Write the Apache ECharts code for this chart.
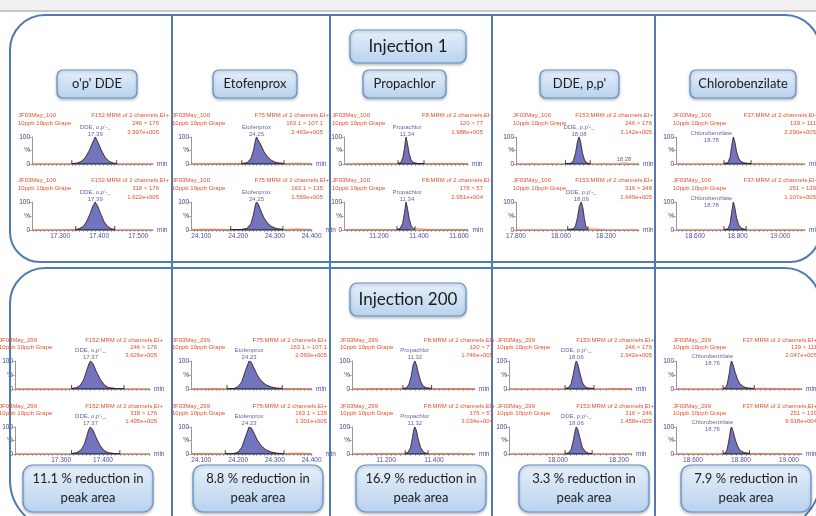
<!DOCTYPE html>
<html><head><meta charset="utf-8">
<script src="https://cdn.jsdelivr.net/npm/echarts@6/dist/echarts.min.js"></script>
<style>html,body{margin:0;padding:0;background:#fff}#c{width:816px;height:516px}</style>
</head><body><div id="c"></div>
<script>
// ---------------- DATA ----------------
const columnTitles = ["o'p' DDE", 'Etofenprox', 'Propachlor', "DDE, p,p'", 'Chlorobenzilate'];
const compoundLabels = ["DDE, o,p'-_", 'Etofenprox', 'Propachlor', "DDE, p,p'-_", 'Chlorobenzilate'];
const functionNames = ['F152:MRM of 2 channels,EI+', 'F75:MRM of 2 channels,EI+', 'F8:MRM of 2 channels,EI+', 'F153:MRM of 2 channels,EI+', 'F37:MRM of 2 channels,EI+'];
const transitionsCh1 = ['246 > 176', '163.1 > 107.1', '120 > 77', '246 > 176', '139 > 111'];
const transitionsCh2 = ['318 > 176', '163.1 > 135', '176 > 57', '316 > 246', '251 > 139'];
const sampleNames = ['JF03May_100', 'JF03May_299'];
const sampleDesc = '10ppb 10ppb Grape';
const injectionTitles = ['Injection 1', 'Injection 200'];

const inj1IntensityCh1 = ['3.997e+005', '2.463e+005', '1.988e+005', '3.142e+005', '2.290e+005'];
const inj1IntensityCh2 = ['1.622e+005', '1.569e+005', '2.951e+004', '1.649e+005', '1.107e+005'];
const inj200IntensityCh1 = ['3.626e+005', '2.093e+005', '1.746e+005', '2.942e+005', '2.047e+005'];
const inj200IntensityCh2 = ['1.495e+005', '1.301e+005', '3.034e+004', '1.458e+005', '9.918e+004'];

const inj1RTCh1 = ['17.39', '24.25', '11.34', '18.08', '18.78'];
const inj1RTCh2 = ['17.39', '24.25', '11.34', '18.09', '18.78'];
const inj200RTCh1 = ['17.37', '24.23', '11.32', '18.06', '18.76'];
const inj200RTCh2 = ['17.37', '24.23', '11.32', '18.06', '18.76'];

const reductions = ['11.1', '8.8', '16.9', '3.3', '7.9'];

const inj1TickLabels = [[17.3, 17.4, 17.5], [24.1, 24.2, 24.3, 24.4], [11.2, 11.4, 11.6], [17.8, 18.0, 18.2], [18.6, 18.8, 19.0]];
const inj200TickLabels = [[17.3, 17.4], [24.1, 24.2, 24.3, 24.4], [11.2, 11.4], [18.0, 18.2], [18.6, 18.8, 19.0]];

// chromatogram traces: [retention time (min), % of max]
const inj1DdeOpCh1 = [[17.228,0.6],[17.28,0.8],[17.33,1],[17.345,4],[17.355,10],[17.365,24],[17.375,50],[17.383,78],[17.39,100],[17.397,80],[17.405,52],[17.415,25],[17.425,10],[17.435,4],[17.445,1.5],[17.49,0.8],[17.538,0.6]];
const inj1DdeOpCh2 = [[17.228,0.6],[17.29,0.8],[17.34,1.2],[17.35,5],[17.36,13],[17.368,30],[17.377,58],[17.384,85],[17.39,100],[17.397,82],[17.405,54],[17.413,28],[17.422,12],[17.432,4],[17.44,1.5],[17.49,0.8],[17.538,0.6]];
const inj1EtoCh1 = [[24.072,1],[24.14,1.5],[24.21,1.5],[24.225,5],[24.235,20],[24.242,50],[24.247,85],[24.25,100],[24.255,93],[24.262,70],[24.27,46],[24.28,26],[24.29,14],[24.30,7],[24.31,4],[24.325,2],[24.36,3],[24.401,2]];
const inj1EtoCh2 = [[24.072,1.5],[24.12,2.5],[24.18,1.5],[24.21,2],[24.225,6],[24.235,22],[24.242,55],[24.247,88],[24.25,100],[24.255,92],[24.262,68],[24.27,44],[24.28,24],[24.29,13],[24.30,7],[24.31,4],[24.322,2],[24.36,3],[24.401,2]];
const inj1PropCh1 = [[11.025,1],[11.15,1.5],[11.295,1.5],[11.31,6],[11.32,25],[11.328,60],[11.335,100],[11.342,75],[11.35,40],[11.36,15],[11.37,6],[11.385,3],[11.40,2],[11.425,1.5],[11.5,2],[11.645,1.5]];
const inj1PropCh2 = [[11.025,1.5],[11.12,2],[11.22,1.5],[11.29,1.5],[11.305,5],[11.318,22],[11.327,58],[11.335,100],[11.342,78],[11.35,42],[11.36,16],[11.37,5],[11.38,2],[11.45,1.5],[11.645,1.5]];
const inj1DdePpCh1 = [[17.8,0.8],[17.9,1],[18.02,1],[18.045,3],[18.055,12],[18.065,40],[18.073,80],[18.08,100],[18.087,82],[18.095,42],[18.105,13],[18.115,4],[18.13,1.2],[18.2,1],[18.26,1.5],[18.272,3.5],[18.285,3.5],[18.30,1.2],[18.347,1]];
const inj1DdePpCh2 = [[17.8,0.8],[17.95,1],[18.03,1.2],[18.055,4],[18.065,15],[18.074,45],[18.082,84],[18.09,100],[18.097,80],[18.104,40],[18.11,13],[18.116,4],[18.12,1.5],[18.2,1],[18.347,1]];
const inj1ChloroCh1 = [[18.511,0.8],[18.65,1],[18.736,1.5],[18.755,5],[18.765,25],[18.772,65],[18.78,100],[18.787,80],[18.795,45],[18.805,20],[18.815,9],[18.83,4],[18.85,2],[18.863,1.5],[18.9,2],[19.116,1]];
const inj1ChloroCh2 = [[18.511,0.8],[18.62,1],[18.736,1.2],[18.755,4],[18.765,22],[18.772,62],[18.78,100],[18.787,78],[18.795,42],[18.805,18],[18.815,8],[18.83,3],[18.84,1.5],[18.9,1],[19.116,1]];

const inj200DdeOpCh1 = [[17.19,0.6],[17.26,0.8],[17.325,1.5],[17.335,4],[17.345,12],[17.353,30],[17.36,60],[17.366,88],[17.37,100],[17.376,90],[17.383,65],[17.393,35],[17.403,14],[17.413,5],[17.43,2],[17.45,1],[17.512,0.6]];
const inj200DdeOpCh2 = [[17.19,0.6],[17.28,0.8],[17.325,1.2],[17.337,5],[17.347,14],[17.355,34],[17.361,64],[17.366,90],[17.37,100],[17.376,88],[17.383,62],[17.392,33],[17.402,13],[17.412,5],[17.425,2],[17.44,1],[17.512,0.6]];
const inj200EtoCh1 = [[24.072,1],[24.13,1.5],[24.17,1],[24.19,2],[24.20,8],[24.21,25],[24.22,65],[24.23,100],[24.236,95],[24.243,75],[24.252,50],[24.262,30],[24.275,15],[24.29,7],[24.305,3],[24.32,2],[24.35,2],[24.401,1.5]];
const inj200EtoCh2 = [[24.072,1.5],[24.12,1.5],[24.165,1],[24.19,2],[24.20,7],[24.21,24],[24.22,62],[24.23,100],[24.236,96],[24.243,78],[24.252,52],[24.262,31],[24.275,16],[24.29,7],[24.305,3],[24.325,2],[24.36,2.5],[24.401,1.5]];
const inj200PropCh1 = [[11.058,1],[11.16,1.5],[11.27,1.5],[11.285,4],[11.295,15],[11.305,45],[11.313,85],[11.32,100],[11.327,85],[11.335,55],[11.345,25],[11.355,10],[11.37,4],[11.39,2],[11.42,2],[11.571,1.2]];
const inj200PropCh2 = [[11.058,1],[11.2,1.5],[11.28,1.5],[11.292,6],[11.302,22],[11.31,58],[11.316,90],[11.32,100],[11.326,88],[11.334,55],[11.344,24],[11.354,9],[11.365,3],[11.375,1.5],[11.45,1.5],[11.571,1.2]];
const inj200DdePpCh1 = [[17.839,0.8],[17.95,1],[18.023,1.5],[18.035,5],[18.043,18],[18.05,50],[18.056,85],[18.06,100],[18.065,88],[18.072,55],[18.08,22],[18.09,7],[18.10,3],[18.118,1.2],[18.15,1],[18.18,2],[18.243,1.5]];
const inj200DdePpCh2 = [[17.839,0.8],[17.95,1],[18.023,1.2],[18.035,4],[18.043,16],[18.05,48],[18.056,84],[18.06,100],[18.065,90],[18.072,58],[18.08,24],[18.09,8],[18.1,3],[18.112,1.2],[18.243,1]];
const inj200ChloroCh1 = [[18.529,0.8],[18.65,1],[18.725,1.5],[18.735,4],[18.742,15],[18.75,50],[18.756,85],[18.76,100],[18.766,88],[18.775,60],[18.785,35],[18.795,18],[18.81,8],[18.83,3],[18.855,1.5],[18.88,2.5],[19.054,1]];
const inj200ChloroCh2 = [[18.529,0.8],[18.65,1],[18.725,1.2],[18.735,4],[18.742,16],[18.75,52],[18.756,88],[18.76,100],[18.766,86],[18.775,56],[18.785,30],[18.795,14],[18.81,6],[18.835,1.5],[18.87,2],[19.054,1]];

// integration limits [start, end] (min)
const inj1IntegrationCh1 = [[17.33,17.445],[24.21,24.325],[11.295,11.425],[18.02,18.13],[18.736,18.863]];
const inj1IntegrationCh2 = [[17.34,17.44],[24.18,24.322],[11.29,11.38],[18.03,18.12],[18.736,18.84]];
const inj200IntegrationCh1 = [[17.325,17.45],[24.17,24.32],[11.27,11.39],[18.023,18.118],[18.725,18.855]];
const inj200IntegrationCh2 = [[17.325,17.44],[24.165,24.325],[11.28,11.375],[18.023,18.112],[18.725,18.835]];

// small extra labelled peak (Injection 1, DDE p,p', channel 1)
const inj1MinorPeak = [18.28, 3.5];

// ---------------- LAYOUT ----------------
const FONT = '"Liberation Sans", Arial, sans-serif';
const BOXFONT = 'Lato, "Open Sans", sans-serif';
const RED = '#e4502c', NAVY = '#3b3b86', AXC = '#7d7d7d', TICKC = '#4b4ba0';
const BORDER = '#4f79b0';

const rows = [
  {
    traces: [[inj1DdeOpCh1, inj1EtoCh1, inj1PropCh1, inj1DdePpCh1, inj1ChloroCh1],
             [inj1DdeOpCh2, inj1EtoCh2, inj1PropCh2, inj1DdePpCh2, inj1ChloroCh2]],
    integ: [inj1IntegrationCh1, inj1IntegrationCh2],
    intensity: [inj1IntensityCh1, inj1IntensityCh2],
    rt: [inj1RTCh1, inj1RTCh2],
    ticks: inj1TickLabels,
    sample: sampleNames[0],
    gridTop: [137, 202], gridH: [27, 28], textOff: [-21.5, -14, -4.5],
    left: [32, 191, 344, 516, 676], right: [153, 312, 468, 639, 805],
    ranges: [[17.228, 17.538], [24.072, 24.401], [11.025, 11.645], [17.8, 18.347], [18.511, 19.116]],
    minorStep: [0.01, 0.01, 0.02, 0.02, 0.02],
    labelOff: [[0, 2], [0, 2], [0, 2], [0, 2], [-22, 8]],
    textLeft: [18, 172, 332, 513, 673], textR1: [169, 329, 493, 653, 818], textR2: [159, 323, 483, 652, 816]
  },
  {
    traces: [[inj200DdeOpCh1, inj200EtoCh1, inj200PropCh1, inj200DdePpCh1, inj200ChloroCh1],
             [inj200DdeOpCh2, inj200EtoCh2, inj200PropCh2, inj200DdePpCh2, inj200ChloroCh2]],
    integ: [inj200IntegrationCh1, inj200IntegrationCh2],
    intensity: [inj200IntensityCh1, inj200IntensityCh2],
    rt: [inj200RTCh1, inj200RTCh2],
    ticks: inj200TickLabels,
    sample: sampleNames[1],
    gridTop: [361, 427], gridH: [28, 27], textOff: [-21, -14, -6],
    left: [15, 191, 352, 509, 676], right: [150, 312, 475, 632, 802],
    ranges: [[17.19, 17.512], [24.072, 24.401], [11.058, 11.571], [17.839, 18.243], [18.529, 19.054]],
    minorStep: [0.01, 0.01, 0.02, 0.02, 0.02],
    labelOff: [[0, 1], [0, 1], [0, 1], [0, 1], [-19, 7]],
    textLeft: [-1, 172, 340, 497, 673], textR1: [163, 327, 495, 654, 817], textR2: [157, 327, 493, 652, 817]
  }
];

const grids = [], xAxes = [], yAxes = [], series = [], graphics = [];

function txt(x, y, text, opts) {
  opts = opts || {};
  return {
    type: 'text', x: x, y: y, z: 100,
    style: Object.assign({
      text: text, fill: RED, font: '6px ' + FONT,
      align: 'left', textAlign: 'left', verticalAlign: 'middle', textVerticalAlign: 'middle'
    }, opts)
  };
}

// background / frame
graphics.push({type: 'rect', z: 1, shape: {x: 0, y: 0, width: 816, height: 10}, style: {fill: '#f1f1f1'}});
graphics.push({type: 'line', z: 1, shape: {x1: 0, y1: 11, x2: 816, y2: 11}, style: {stroke: '#c6c6c6', lineWidth: 2}});
[172, 330, 492, 655].forEach(function (x) {
  graphics.push({type: 'line', z: 1, shape: {x1: x, y1: 15, x2: x, y2: 516}, style: {stroke: BORDER, lineWidth: 2}});
});
graphics.push({type: 'rect', z: 1, shape: {x: 10, y: 15, width: 810, height: 247, r: [35, 35, 30, 30]}, style: {fill: 'none', stroke: BORDER, lineWidth: 2}});
graphics.push({type: 'rect', z: 1, shape: {x: 10, y: 268, width: 810, height: 262, r: [35, 35, 50, 50]}, style: {fill: 'none', stroke: BORDER, lineWidth: 2}});

function box(x, y, w, h, r, text, fontSize, lineHeight) {
  graphics.push({
    type: 'rect', z: 110, shape: {x: x, y: y, width: w, height: h, r: r},
    style: {
      fill: {type: 'linear', x: 0, y: 0, x2: 0, y2: 1, colorStops: [{offset: 0, color: '#e6f0fa'}, {offset: 1, color: '#b9d2ee'}]},
      stroke: '#5f8fc8', lineWidth: 1.2, shadowBlur: 3, shadowColor: 'rgba(0,0,0,0.25)', shadowOffsetY: 1.5
    }
  });
  graphics.push({
    type: 'text', z: 111, x: x + w / 2, y: y + h / 2,
    style: {text: text, fill: '#1c1c1c', font: fontSize + 'px ' + BOXFONT, lineHeight: lineHeight,
            align: 'center', textAlign: 'center', verticalAlign: 'middle', textVerticalAlign: 'middle'}
  });
}
box(350, 30, 116, 33, 7, injectionTitles[0], 17, 20);
box(350, 283, 116, 33, 7, injectionTitles[1], 17, 20);
const titleBoxes = [[57, 80], [213, 84], [363, 83], [540, 79], [690, 106]];
columnTitles.forEach(function (t, i) { box(titleBoxes[i][0], 70, titleBoxes[i][1], 28, 6, t, 13, 16); });
const redBoxes = [23, 193, 356, 519, 681];
reductions.forEach(function (v, i) { box(redBoxes[i], 465, 130, 47, 10, v + ' % reduction in\npeak area', 13, 19); });

// chromatograms
rows.forEach(function (row, r) {
  for (let c = 0; c < 5; c++) {
    for (let t = 0; t < 2; t++) {
      const gi = grids.length;
      const top = row.gridTop[t], h = row.gridH[t];
      const left = row.left[c], width = row.right[c] - row.left[c];
      grids.push({left: left, top: top, width: width, height: h, containLabel: false, outerBoundsMode: 'none'});
      const mn = row.ranges[c][0], mx = row.ranges[c][1];
      const step = row.minorStep[c];
      const minor = [];
      for (let k = Math.ceil(mn / step - 1e-9); k * step <= mx + 1e-9; k++) minor.push(+(k * step).toFixed(3));
      xAxes.push({
        gridIndex: gi, type: 'value', min: mn, max: mx,
        axisLine: {show: true, onZero: false, lineStyle: {color: AXC, width: 0.8}},
        axisTick: {show: true, customValues: minor, length: 2, lineStyle: {color: AXC, width: 0.6}},
        axisLabel: {show: t === 1, customValues: row.ticks[c], formatter: function (v) { return v.toFixed(3); },
                    fontSize: 6.5, color: TICKC, margin: 3, fontFamily: FONT},
        splitLine: {show: false},
        name: 'min', nameLocation: 'end', nameGap: 4,
        nameTextStyle: {fontSize: 6.5, color: TICKC, fontFamily: FONT, verticalAlign: 'middle', align: 'left'}
      });
      yAxes.push({
        gridIndex: gi, type: 'value', min: 0, max: 100, interval: 50,
        axisLine: {show: true, lineStyle: {color: AXC, width: 0.8}},
        axisTick: {show: true, length: 3, lineStyle: {color: AXC, width: 0.6}},
        axisLabel: {fontSize: 6.5, color: NAVY, margin: 2, fontFamily: FONT,
                    formatter: function (v) { return v === 50 ? '%' : String(v); }},
        splitLine: {show: false}
      });
      const trace = row.traces[t][c];
      const s = row.integ[t][c][0], e = row.integ[t][c][1];
      const peak = trace.filter(function (p) { return p[0] >= s - 1e-9 && p[0] <= e + 1e-9; });
      series.push({
        type: 'line', xAxisIndex: gi, yAxisIndex: gi, data: trace, showSymbol: false, silent: true,
        lineStyle: {color: '#ef7a55', width: 1.1}, z: 2, animation: false
      });
      series.push({
        type: 'line', xAxisIndex: gi, yAxisIndex: gi, data: peak, showSymbol: false, silent: true,
        lineStyle: {color: '#1e1e3c', width: 0.7}, areaStyle: {color: '#7075bd', opacity: 1, origin: 'start'}, z: 3, animation: false
      });
      series.push({
        type: 'line', xAxisIndex: gi, yAxisIndex: gi, showSymbol: false, silent: true,
        data: [[s, 14], [s, 0.6], [e, 0.6], [e, 14]],
        lineStyle: {color: '#111', width: 0.8}, z: 4, animation: false
      });
      const rtText = row.rt[t][c];
      const labelPts = [{value: [parseFloat(rtText), 100], text: compoundLabels[c] + '\n' + rtText, off: row.labelOff[c]}];
      if (r === 0 && c === 3 && t === 0) labelPts.push({value: inj1MinorPeak, text: inj1MinorPeak[0].toFixed(2), off: [0, 1]});
      labelPts.forEach(function (lp) {
        series.push({
          type: 'scatter', xAxisIndex: gi, yAxisIndex: gi, symbolSize: 1, silent: true, animation: false,
          itemStyle: {color: 'rgba(0,0,0,0)'}, z: 5,
          data: [{value: lp.value}],
          label: {show: true, position: 'top', distance: 1, offset: lp.off, formatter: lp.text,
                  fontSize: 6, lineHeight: 7, color: NAVY, fontFamily: FONT, align: 'center'}
        });
      });
      // header texts
      const base = top;
      const off = row.textOff;
      const tr = t === 0 ? transitionsCh1 : transitionsCh2;
      graphics.push(txt(row.textLeft[c], base + off[0], row.sample));
      graphics.push(txt(row.textLeft[c], base + off[1], sampleDesc));
      graphics.push(txt(row.textR1[c], base + off[0], functionNames[c], {align: 'right', textAlign: 'right'}));
      graphics.push(txt(row.textR2[c], base + off[1], tr[c], {align: 'right', textAlign: 'right'}));
      graphics.push(txt(row.textR2[c], base + off[2], row.intensity[t][c], {align: 'right', textAlign: 'right'}));
    }
  }
});

const chart = echarts.init(document.getElementById('c'), null, {renderer: 'canvas'});
chart.setOption({
  animation: false,
  backgroundColor: '#ffffff',
  grid: grids, xAxis: xAxes, yAxis: yAxes, series: series,
  graphic: {elements: graphics}
});
</script></body></html>
